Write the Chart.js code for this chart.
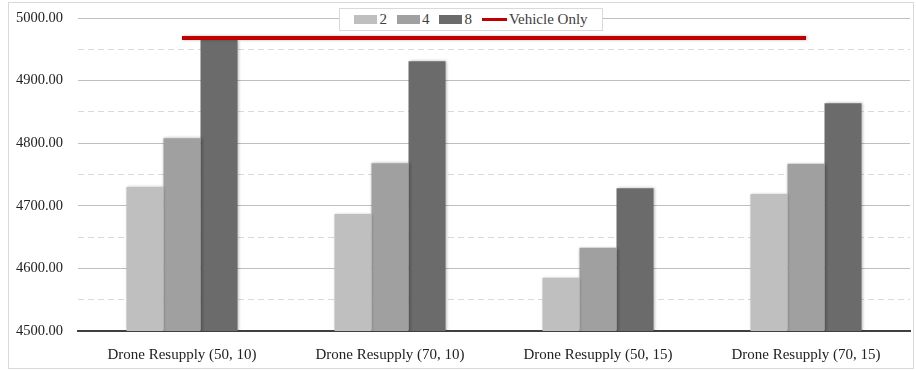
<!DOCTYPE html>
<html>
<head>
<meta charset="utf-8">
<script src="https://cdn.jsdelivr.net/npm/chart.js@4.4.0/dist/chart.umd.min.js"></script>
<style>
  body { margin: 0; background: #fff; }
  #wrap { position: relative; width: 916px; height: 370px; }
  #frame { position: absolute; left: 8px; top: 2px; width: 904px; height: 365px; border: 1px solid #d9d9d9; pointer-events: none; }
  #legend { position: absolute; left: 339px; top: 8px; width: 262px; height: 21px; background: #fff; border: 1px solid #d9d9d9;
            display: flex; align-items: center; justify-content: center; font: 15px "Liberation Serif", serif; color: #404040; }
  #legend .item { display: flex; align-items: center; margin: 0 5px; }
  #legend .sw { display: inline-block; width: 23px; height: 9px; margin-right: 2px; }
  #legend .ln { display: inline-block; width: 25px; height: 3px; margin-right: 2px; }
</style>
</head>
<body>
<div id="wrap">
  <canvas id="chart" width="916" height="370"></canvas>
  <div id="frame"></div>
  <div id="legend"></div>
</div>
<script>
var categories = ['Drone Resupply (50, 10)', 'Drone Resupply (70, 10)', 'Drone Resupply (50, 15)', 'Drone Resupply (70, 15)'];
var drones2 = [4730, 4687, 4585, 4719];
var drones4 = [4808, 4768, 4633, 4767];
var drones8 = [4965, 4931, 4728, 4864];
var vehicleOnly = [4968, 4968, 4968, 4968];

var shadow = {
    id: 'shadow',
    beforeDatasetDraw: function (chart) {
        var ctx = chart.ctx;
        ctx.save();
        ctx.shadowColor = 'rgba(0,0,0,0.3)';
        ctx.shadowBlur = 3;
        ctx.shadowOffsetX = 1;
        ctx.shadowOffsetY = 0;
    },
    afterDatasetDraw: function (chart) {
        chart.ctx.restore();
    }
};

var chart = new Chart(document.getElementById('chart'), {
    type: 'bar',
    data: {
        labels: categories,
        datasets: [{
            label: '2',
            data: drones2,
            backgroundColor: '#bfbfbf',
            order: 1
        }, {
            label: '4',
            data: drones4,
            backgroundColor: '#a0a0a0',
            order: 1
        }, {
            label: '8',
            data: drones8,
            backgroundColor: '#6b6b6b',
            order: 1
        }, {
            type: 'line',
            label: 'Vehicle Only',
            data: vehicleOnly,
            borderColor: '#c00000',
            backgroundColor: '#c00000',
            borderWidth: 4,
            pointRadius: 0,
            order: 0
        }]
    },
    options: {
        responsive: false,
        animation: false,
        layout: { padding: { top: 18, right: 6, left: 0, bottom: 0 } },
        datasets: { bar: { barPercentage: 1, categoryPercentage: 0.534 } },
        plugins: { legend: { display: false }, tooltip: { enabled: false } },
        scales: {
            x: {
                grid: { display: false, drawTicks: false },
                border: { display: true, color: '#404040', width: 2 },
                ticks: { padding: 15, color: '#222', font: { family: 'Liberation Serif', size: 15 } },
                afterFit: function (scale) {
                    scale.height = 39;
                    scale.paddingLeft = 0;
                    scale.paddingRight = 0;
                }
            },
            y: {
                min: 4500,
                max: 5000,
                grid: {
                    drawTicks: false,
                    color: function (c) { return c.tick && c.tick.value % 100 ? '#d9d9d9' : '#bfbfbf'; }
                },
                border: {
                    display: false,
                    dash: function (c) { return c.tick && c.tick.value % 100 ? [6, 4] : []; }
                },
                ticks: {
                    stepSize: 50,
                    padding: 15,
                    color: '#222',
                    font: { family: 'Liberation Serif', size: 14.5 },
                    callback: function (v) { return v % 100 ? '' : v.toFixed(2); }
                },
                afterFit: function (scale) {
                    scale.width = 78;
                    scale.paddingTop = 0;
                    scale.paddingBottom = 0;
                }
            }
        }
    },
    plugins: [shadow]
});

var legend = document.getElementById('legend');
chart.data.datasets.forEach(function (ds) {
    var item = document.createElement('span');
    item.className = 'item';
    var mark = document.createElement('span');
    mark.className = ds.type === 'line' ? 'ln' : 'sw';
    mark.style.background = ds.type === 'line' ? ds.borderColor : ds.backgroundColor;
    item.appendChild(mark);
    item.appendChild(document.createTextNode(ds.label));
    legend.appendChild(item);
});
</script>
</body>
</html>
